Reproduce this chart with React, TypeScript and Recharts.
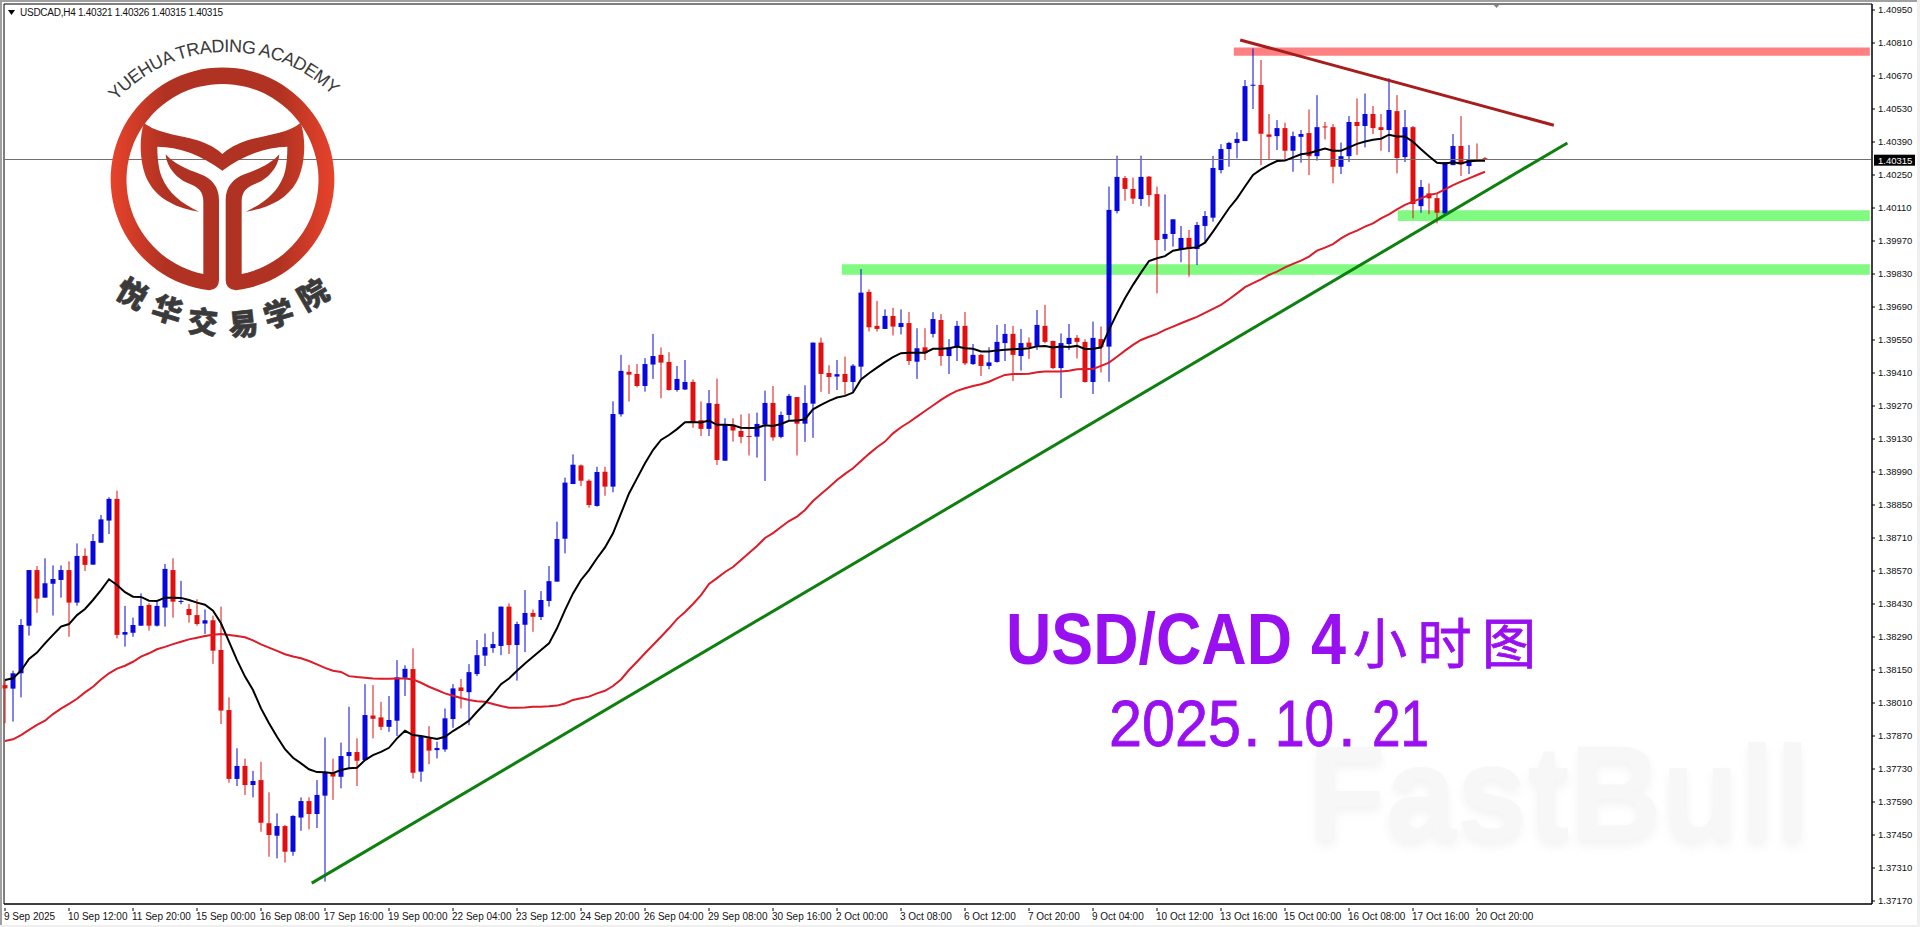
import { Bar, ComposedChart, Line, ReferenceArea, ReferenceLine, XAxis, YAxis } from "recharts";

const FONT = "'Liberation Sans', Arial, sans-serif";
const BULL = "#0808dc";
const BEAR = "#e01010";
const PURPLE = "#9810f0";

// Prices in points (price x 100000).
const opens = [
  138086, 138071, 138136, 138338, 138574, 138457, 138516, 138532, 138574, 138436,
  138634, 138597, 138690, 138784, 138876, 138300, 138308, 138338, 138426, 138338,
  138415, 138574, 138439, 138409, 138383, 138347, 138361, 138235, 137980, 137688,
  137743, 137662, 137683, 137500, 137447, 137488, 137379, 137524, 137594, 137539,
  137617, 137712, 137697, 137785, 137802, 137768, 137957, 137949, 137909, 137935,
  138117, 138154, 137719, 137860, 137810, 137813, 137942, 138076, 138056, 138133,
  138211, 138243, 138252, 138419, 138256, 138342, 138392, 138375, 138443, 138525,
  138707, 138939, 139018, 138953, 138846, 138991, 138928, 139235, 139415, 139406,
  139355, 139446, 139487, 139457, 139338, 139340, 139372, 139210, 139173, 139279,
  139038, 139191, 139164, 139143, 139140, 139191, 139283, 139139, 139232, 139308,
  139195, 139280, 139539, 139410, 139395, 139406, 139372, 139437, 139754, 139610,
  139597, 139652, 139605, 139622, 139458, 139519, 139576, 139635, 139482, 139518,
  139610, 139448, 139487, 139440, 139457, 139537, 139576, 139482, 139539, 139525,
  139610, 139546, 139431, 139533, 139559, 139542, 139372, 139554, 139522, 140097,
  140237, 140191, 140148, 140243, 140169, 139979, 140000, 139936, 139983, 139936,
  140034, 140069, 140271, 140360, 140386, 140394, 140629, 140632, 140422, 140415,
  140449, 140353, 140412, 140428, 140330, 140456, 140453, 140285, 140330, 140475,
  140458, 140509, 140453, 140441, 140521, 140326, 140453, 140118, 140172, 140152,
  140087, 140292, 140373, 140288, 140316, 140321,
];
const highs = [
  138108, 138147, 138366, 138574, 138591, 138624, 138594, 138594, 138611, 138687,
  138666, 138727, 138808, 138883, 138911, 138422, 138372, 138475, 138433, 138447,
  138600, 138624, 138528, 138430, 138450, 138407, 138381, 138419, 138034, 137818,
  137774, 137722, 137761, 137631, 137542, 137493, 137534, 137610, 137610, 137683,
  137864, 137774, 137842, 137994, 137860, 138090, 138086, 138015, 138040, 138192,
  138170, 138242, 137870, 137912, 137846, 137987, 138090, 138112, 138175, 138277,
  138305, 138312, 138419, 138433, 138355, 138489, 138407, 138485, 138591, 138779,
  138966, 139065, 139022, 138959, 139012, 139012, 139290, 139487, 139444, 139448,
  139473, 139576, 139518, 139498, 139440, 139465, 139383, 139289, 139338, 139386,
  139218, 139218, 139234, 139238, 139242, 139335, 139355, 139246, 139321, 139308,
  139358, 139539, 139560, 139443, 139465, 139480, 139448, 139851, 139765, 139716,
  139680, 139687, 139680, 139669, 139600, 139600, 139668, 139660, 139554, 139631,
  139669, 139533, 139491, 139519, 139614, 139618, 139610, 139597, 139561, 139677,
  139699, 139547, 139578, 139618, 139571, 139553, 139628, 139607, 140201, 140332,
  140246, 140239, 140332, 140246, 140201, 140168, 140062, 140034, 140017, 140051,
  140097, 140331, 140381, 140391, 140431, 140653, 140787, 140738, 140509, 140483,
  140472, 140434, 140441, 140528, 140589, 140475, 140466, 140388, 140500, 140575,
  140596, 140543, 140509, 140660, 140589, 140526, 140458, 140229, 140214, 140169,
  140305, 140424, 140500, 140377, 140384, 140326,
];
const lows = [
  137924, 137931, 138034, 138296, 138393, 138457, 138381, 138457, 138291, 138423,
  138570, 138597, 138690, 138727, 138284, 138249, 138291, 138338, 138317, 138334,
  138334, 138372, 138429, 138351, 138338, 138303, 138176, 137921, 137672, 137658,
  137620, 137610, 137464, 137358, 137351, 137333, 137362, 137468, 137474, 137480,
  137252, 137599, 137648, 137733, 137658, 137768, 137860, 137895, 137888, 137870,
  138040, 137690, 137676, 137750, 137775, 137803, 137905, 137987, 137916, 138124,
  138167, 138223, 138213, 138218, 138105, 138226, 138312, 138362, 138419, 138525,
  138645, 138939, 138930, 138839, 138843, 138889, 138904, 139225, 139289, 139349,
  139331, 139385, 139303, 139335, 139331, 139338, 139178, 139143, 139143, 139020,
  139038, 139119, 139112, 139060, 139051, 138952, 139123, 139133, 139211, 139060,
  139118, 139135, 139330, 139321, 139338, 139317, 139330, 139388, 139586, 139586,
  139597, 139569, 139574, 139444, 139385, 139465, 139561, 139441, 139406, 139461,
  139444, 139444, 139397, 139426, 139454, 139461, 139376, 139420, 139470, 139508,
  139536, 139427, 139304, 139508, 139472, 139369, 139321, 139412, 139373, 140087,
  140141, 140127, 140119, 140116, 139748, 139929, 139946, 139880, 139819, 139868,
  139967, 140052, 140257, 140285, 140321, 140394, 140530, 140292, 140313, 140356,
  140311, 140264, 140302, 140250, 140311, 140401, 140215, 140254, 140305, 140335,
  140367, 140424, 140353, 140347, 140257, 140305, 140066, 140090, 140084, 140045,
  140084, 140292, 140246, 140254, 140311, 140315,
];
const closes = [
  138072, 138136, 138341, 138574, 138453, 138518, 138536, 138574, 138436, 138634,
  138596, 138697, 138789, 138876, 138299, 138311, 138341, 138422, 138338, 138422,
  138579, 138440, 138443, 138383, 138345, 138361, 138232, 137978, 137688, 137743,
  137662, 137679, 137502, 137450, 137488, 137379, 137531, 137594, 137539, 137620,
  137716, 137698, 137785, 137802, 137765, 137959, 137943, 137909, 137938, 138119,
  138155, 137714, 137870, 137808, 137819, 137945, 138072, 138061, 138141, 138213,
  138247, 138260, 138419, 138256, 138345, 138392, 138376, 138447, 138527, 138706,
  138945, 139021, 138953, 138850, 138990, 138928, 139236, 139419, 139403, 139355,
  139448, 139482, 139454, 139338, 139385, 139372, 139204, 139173, 139282, 139041,
  139191, 139166, 139139, 139140, 139194, 139283, 139137, 139232, 139313, 139195,
  139283, 139539, 139406, 139393, 139405, 139372, 139441, 139751, 139604, 139597,
  139652, 139607, 139622, 139461, 139515, 139494, 139639, 139482, 139519, 139610,
  139451, 139487, 139440, 139455, 139542, 139576, 139487, 139537, 139520, 139614,
  139542, 139431, 139537, 139559, 139542, 139372, 139559, 139519, 140102, 140242,
  140191, 140150, 140242, 140165, 139974, 140000, 140062, 139983, 139936, 140038,
  140076, 140280, 140360, 140386, 140403, 140627, 140633, 140425, 140412, 140449,
  140353, 140415, 140424, 140330, 140453, 140452, 140285, 140330, 140475, 140458,
  140509, 140449, 140441, 140526, 140322, 140453, 140127, 140199, 140151, 140090,
  140305, 140373, 140295, 140318, 140311, 140315,
];
const fastMa = [
  138108, 138115, 138147, 138197, 138224, 138263, 138299, 138334, 138345, 138383,
  138409, 138447, 138489, 138535, 138511, 138480, 138461, 138460, 138444, 138443,
  138457, 138457, 138456, 138447, 138436, 138427, 138402, 138348, 138270, 138192,
  138122, 138065, 137987, 137924, 137867, 137814, 137778, 137754, 137729, 137717,
  137716, 137712, 137726, 137733, 137735, 137768, 137789, 137803, 137820, 137860,
  137892, 137874, 137870, 137864, 137857, 137867, 137891, 137912, 137935, 137973,
  138008, 138048, 138090, 138114, 138147, 138178, 138206, 138235, 138263, 138327,
  138404, 138475, 138532, 138574, 138624, 138670, 138730, 138814, 138899, 138963,
  139027, 139083, 139126, 139147, 139172, 139201, 139202, 139200, 139208, 139190,
  139190, 139188, 139178, 139177, 139178, 139188, 139185, 139194, 139207, 139208,
  139214, 139256, 139275, 139292, 139306, 139313, 139327, 139383, 139409, 139433,
  139456, 139477, 139494, 139496, 139496, 139496, 139513, 139513, 139515, 139522,
  139515, 139513, 139501, 139501, 139506, 139509, 139511, 139512, 139515, 139523,
  139525, 139518, 139522, 139520, 139525, 139512, 139513, 139518, 139593, 139663,
  139727, 139784, 139836, 139885, 139897, 139906, 139929, 139935, 139940, 139943,
  139963, 140010, 140059, 140109, 140151, 140201, 140250, 140274, 140293, 140309,
  140311, 140325, 140338, 140342, 140353, 140362, 140353, 140353, 140367, 140382,
  140392, 140400, 140404, 140421, 140413, 140413, 140391, 140359, 140330, 140302,
  140299, 140304, 140299, 140308, 140311, 140311,
];
const slowMa = [
  137849, 137856, 137874, 137896, 137917, 137935, 137963, 137986, 138006, 138028,
  138055, 138079, 138110, 138136, 138156, 138168, 138185, 138207, 138221, 138238,
  138248, 138260, 138270, 138280, 138287, 138294, 138300, 138303, 138299, 138294,
  138289, 138276, 138259, 138245, 138231, 138217, 138207, 138200, 138188, 138174,
  138159, 138147, 138142, 138124, 138120, 138117, 138114, 138113, 138113, 138114,
  138114, 138110, 138096, 138079, 138065, 138051, 138041, 138031, 138023, 138017,
  138015, 138006, 137997, 137990, 137990, 137991, 137994, 137994, 137996, 137999,
  138008, 138023, 138030, 138037, 138051, 138062, 138082, 138110, 138150, 138185,
  138221, 138256, 138291, 138327, 138366, 138396, 138430, 138468, 138515, 138540,
  138566, 138587, 138617, 138646, 138676, 138710, 138731, 138757, 138782, 138801,
  138829, 138867, 138897, 138925, 138956, 138982, 139006, 139037, 139067, 139095,
  139119, 139154, 139180, 139201, 139225, 139249, 139272, 139296, 139317, 139334,
  139345, 139355, 139362, 139373, 139388, 139402, 139406, 139406, 139407, 139413,
  139416, 139416, 139416, 139420, 139426, 139427, 139427, 139440, 139454, 139479,
  139505, 139529, 139550, 139564, 139576, 139593, 139607, 139621, 139635, 139648,
  139665, 139682, 139699, 139723, 139748, 139774, 139791, 139807, 139826, 139840,
  139858, 139873, 139887, 139904, 139929, 139942, 139957, 139981, 140000, 140014,
  140031, 140045, 140066, 140083, 140104, 140123, 140137, 140151, 140165, 140172,
  140189, 140207, 140222, 140236, 140250, 140264,
];

const dateLabels = [
  "9 Sep 2025", "10 Sep 12:00", "11 Sep 20:00", "15 Sep 00:00", "16 Sep 08:00", "17 Sep 16:00",
  "19 Sep 00:00", "22 Sep 04:00", "23 Sep 12:00", "24 Sep 20:00", "26 Sep 04:00", "29 Sep 08:00",
  "30 Sep 16:00", "2 Oct 00:00", "3 Oct 08:00", "6 Oct 12:00", "7 Oct 20:00", "9 Oct 04:00",
  "10 Oct 12:00", "13 Oct 16:00", "15 Oct 00:00", "16 Oct 08:00", "17 Oct 16:00", "20 Oct 20:00",
];
const dateTicks = dateLabels.map((_, i) => i * 8);

const priceTicks = [
  1.4095, 1.4081, 1.4067, 1.4053, 1.4039, 1.4025, 1.4011, 1.3997, 1.3983, 1.3969,
  1.3955, 1.3941, 1.3927, 1.3913, 1.3899, 1.3885, 1.3871, 1.3857, 1.3843, 1.3829,
  1.3815, 1.3801, 1.3787, 1.3773, 1.3759, 1.3745, 1.3731, 1.3717,
];

const LAST_PRICE = 1.40315;
const X_DOMAIN = [-0.125, 233.375];
const Y_DOMAIN = [1.371573, 1.409755];

// hand-drawn levels and trend lines, in [bar, price]
const resistanceZone = { x1: 153.6, x2: 233.1, y1: 1.40756, y2: 1.40791 };
const supportZones = [
  { x1: 174.1, x2: 233.1, y1: 1.40055, y2: 1.401 },
  { x1: 104.6, x2: 233.1, y1: 1.39827, y2: 1.39871 },
];
const upTrend = [{ x: 38.34, y: 1.37246 }, { x: 195.3, y: 1.40386 }];
const downTrend = [{ x: 154.4, y: 1.40823 }, { x: 193.6, y: 1.40461 }];

const table = opens.map((open, i) => ({
  bar: i,
  open: open / 100000,
  high: highs[i] / 100000,
  low: lows[i] / 100000,
  close: closes[i] / 100000,
  fast: fastMa[i] / 100000,
  slow: slowMa[i] / 100000,
}));

function Candle(props: any) {
  const { x, y, width, height, payload } = props;
  const { open, high, low, close } = payload;
  const cx = Math.round(x + width / 2);
  const k = high > low ? height / (high - low) : 0;
  const top = y + (high - Math.max(open, close)) * k;
  const bot = y + (high - Math.min(open, close)) * k;
  const color = close >= open ? BULL : BEAR;
  return (
    <g>
      <rect x={cx - 0.5} y={y} width={1} height={height} fill={color} />
      <rect x={cx - 2.5} y={top} width={5} height={Math.max(bot - top, 1)} fill={color} />
    </g>
  );
}

function DateTick({ x, y, payload, index }: any) {
  return (
    <g>
      <line x1={x} x2={x} y1={y - 4} y2={y - 1} stroke="#000" />
      <text x={x - 1} y={y + 8} fontSize={10} fontFamily={FONT} fill="#111">
        {dateLabels[index] ?? payload.value}
      </text>
    </g>
  );
}

function PriceTag({ viewBox }: any) {
  const right = viewBox.x + viewBox.width;
  return (
    <g>
      <rect x={right + 2} y={viewBox.y - 5} width={41} height={11} fill="#000" />
      <text x={right + 6} y={viewBox.y + 4} fontSize={9.5} fontFamily={FONT} fill="#fff">
        {LAST_PRICE.toFixed(5)}
      </text>
    </g>
  );
}

function Logo() {
  return (
    <g>
      <g transform="scale(0.33333)">
        <path
          fill="url(#logoRed)"
          d="M657 600 L657 840 Q657 868 628 871 A335.5 335.5 0 1 1 707 871 Q677 868 677 840 L677 600
             C677 560 700 535 735 522 C775 508 815 490 838 463 C835 505 800 540 765 552 C740 562 725 575 725 605
             L725 822 A288 288 0 1 0 610 822 L610 605 C610 575 595 562 570 552 C535 540 500 505 497 463
             C520 490 560 508 600 522 C635 535 657 560 657 600 Z"
        />
        <path
          fill="url(#logoRed)"
          d="M432 368 C470 400 540 405 590 420 C625 432 650 445 667 462 C685 445 710 432 745 420 C795 405 865 400 902 368
             C920 420 915 500 890 545 C860 600 800 625 738 635 C790 610 830 580 850 530 C860 505 862 470 862 440
             C800 440 730 465 667 512 C605 465 535 440 472 440 C472 470 475 505 485 530 C505 580 545 610 597 635
             C535 625 475 600 445 545 C420 500 415 420 432 368 Z"
        />
      </g>
      <path id="logoArc" d="M116 101 A150 150 0 0 1 338 101" fill="none" />
      <text fontSize={18} fontFamily={FONT} fill="#3a3a3a">
        <textPath href="#logoArc" textLength={242} lengthAdjust="spacing">
          YUEHUA TRADING ACADEMY
        </textPath>
      </text>
      {[
        ["悦", 133, 292, 30],
        ["华", 168, 308, 17],
        ["交", 203, 320, 5],
        ["易", 243, 322, -6],
        ["学", 278, 312, -17],
        ["院", 312, 293, -30],
      ].map(([ch, x, y, a]: any) => (
        <text
          key={ch}
          transform={`translate(${x} ${y}) rotate(${a})`}
          textAnchor="middle"
          dominantBaseline="central"
          fontSize={30}
          fontWeight={900}
          fontFamily="'Noto Sans CJK SC'"
          fill="#3a3a3a"
          stroke="#3a3a3a"
          strokeWidth={0.6}
        >
          {ch}
        </text>
      ))}
    </g>
  );
}

function Overlay() {
  const dateText = { y: 746, fontSize: 64, fontFamily: FONT, fill: PURPLE, stroke: PURPLE, strokeWidth: 0.8, lengthAdjust: "spacingAndGlyphs" };
  return (
    <svg width={1920} height={927} style={{ position: "absolute", left: 0, top: 0, pointerEvents: "none" }}>
      <defs>
        <linearGradient id="logoRed" gradientUnits="userSpaceOnUse" x1={330} x2={1005} y1={0} y2={0}>
          <stop offset="0" stopColor="#e8432b" />
          <stop offset="0.25" stopColor="#b03222" />
          <stop offset="0.75" stopColor="#b03222" />
          <stop offset="1" stopColor="#e8432b" />
        </linearGradient>
        <filter id="soft" x="-5%" y="-5%" width="110%" height="130%">
          <feGaussianBlur stdDeviation="5" />
        </filter>
      </defs>
      <rect x={0} y={0} width={1920} height={2} fill="#a0a0a0" />
      <rect x={0} y={0} width={2} height={927} fill="#a0a0a0" />
      <rect x={0} y={925} width={1920} height={2} fill="#efefef" />
      <rect x={1917} y={0} width={3} height={927} fill="#efefef" />
      <polygon points="1492,3 1501,3 1496.5,8" fill="#808080" />
      <polygon points="8,10 15,10 11.5,15" fill="#000" />
      <text x={20} y={16} fontSize={10} fontFamily={FONT} fill="#111" textLength={203}>
        USDCAD,H4  1.40321 1.40326 1.40315 1.40315
      </text>
      <text x={1308} y={846} fontSize={136} fontWeight={700} fontFamily={FONT} fill="#e8e8e8" textLength={502} lengthAdjust="spacingAndGlyphs" filter="url(#soft)" opacity={0.5}>
        FastBull
      </text>
      <text x={1308} y={840} fontSize={136} fontWeight={700} fontFamily={FONT} fill="#f7f7f7" textLength={502} lengthAdjust="spacingAndGlyphs">
        FastBull
      </text>
      <text x={1006} y={664} fontSize={72} fontWeight={700} fontFamily={FONT} fill={PURPLE} textLength={286} lengthAdjust="spacingAndGlyphs">
        USD/CAD
      </text>
      <text x={1311} y={664} fontSize={72} fontWeight={700} fontFamily={FONT} fill={PURPLE} textLength={35} lengthAdjust="spacingAndGlyphs">
        4
      </text>
      <text x={1353} y={664} fontSize={54} fontFamily="'Noto Sans CJK SC'" fill={PURPLE} stroke={PURPLE} strokeWidth={0.8} textLength={183}>
        小时图
      </text>
      <text x={1109} textLength={132} {...dateText}>2025</text>
      <text x={1243} {...dateText}>.</text>
      <text x={1275} textLength={59} {...dateText}>10</text>
      <text x={1338} {...dateText}>.</text>
      <text x={1372} textLength={57} {...dateText}>21</text>
      <Logo />
    </svg>
  );
}

export default function App() {
  return (
    <div style={{ position: "absolute", left: 0, top: 0, width: 1920, height: 927, background: "#fff" }}>
      <ComposedChart
        width={1920}
        height={927}
        data={table}
        margin={{ top: 4, right: 0, bottom: 0, left: 4 }}
      >
        <XAxis
          type="number"
          dataKey="bar"
          domain={X_DOMAIN}
          ticks={dateTicks}
          interval={0}
          height={23}
          axisLine={{ stroke: "#000" }}
          tickLine={false}
          tick={<DateTick />}
        />
        <YAxis
          orientation="right"
          domain={Y_DOMAIN}
          ticks={priceTicks}
          interval={0}
          width={48}
          axisLine={{ stroke: "#000" }}
          tickLine={{ stroke: "#000" }}
          tickSize={3}
          tickMargin={3}
          tick={{ fontSize: 9.5, fontFamily: FONT, fill: "#111" }}
          tickFormatter={(v: number) => v.toFixed(5)}
        />
        <ReferenceArea x1={X_DOMAIN[0]} x2={X_DOMAIN[1]} y1={Y_DOMAIN[0]} y2={Y_DOMAIN[1]} fill="none" stroke="#000" />
        <ReferenceArea {...resistanceZone} fill="#ff8080" fillOpacity={1} stroke="none" />
        {supportZones.map((z) => (
          <ReferenceArea key={z.x1} {...z} fill="#80fa80" fillOpacity={1} stroke="none" />
        ))}
        <ReferenceLine y={LAST_PRICE} stroke="#707070" shapeRendering="crispEdges" label={<PriceTag />} />
        <Bar
          dataKey={(d: any) => [d.low, d.high]}
          barSize={5}
          shape={<Candle />}
          isAnimationActive={false}
        />
        <Line dataKey="slow" type="linear" stroke="#dc1c28" strokeWidth={2} dot={false} isAnimationActive={false} />
        <Line dataKey="fast" type="linear" stroke="#000" strokeWidth={2} dot={false} isAnimationActive={false} />
        <ReferenceLine segment={upTrend} stroke="#0f7f10" strokeWidth={3} />
        <ReferenceLine segment={downTrend} stroke="#a81c1c" strokeWidth={3} />
      </ComposedChart>
      <Overlay />
    </div>
  );
}
